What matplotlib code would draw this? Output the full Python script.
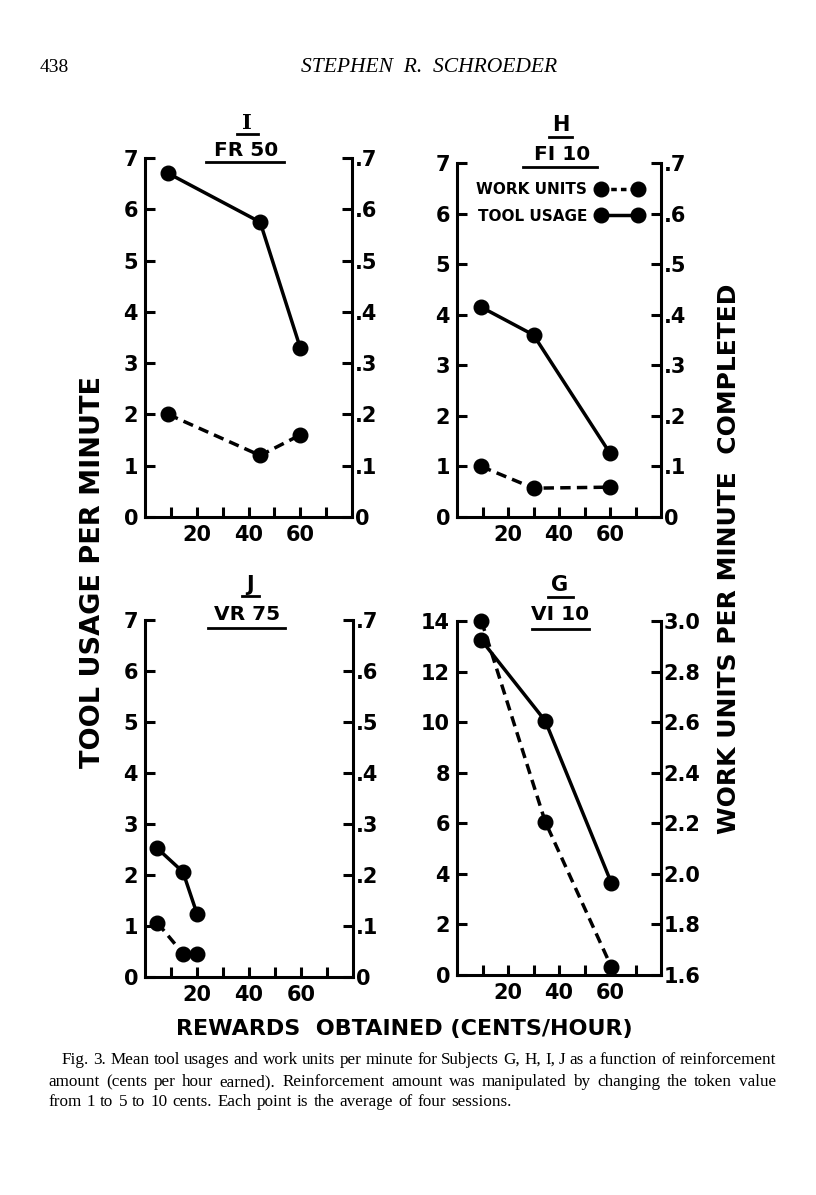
import matplotlib
matplotlib.use('Agg')
import matplotlib.pyplot as plt
from matplotlib.lines import Line2D

W, H = 816, 1195

# x axis (rewards obtained, cents/hour)
x_ticks = [10, 20, 30, 40, 50, 60, 70]
x_tick_labels = ['', '20', '', '40', '', '60', '']

# Subject I, FR 50
i_rewards = [9, 44.5, 60]
i_tool = [6.7, 5.75, 3.3]
i_work = [0.20, 0.12, 0.16]

# Subject H, FI 10
h_rewards = [9.5, 30, 60]
h_tool = [4.15, 3.6, 1.26]
h_work = [0.10, 0.057, 0.059]

# Subject J, VR 75
j_rewards = [4.8, 14.6, 20]
j_tool = [2.52, 2.06, 1.24]
j_work = [0.106, 0.046, 0.046]

# Subject G, VI 10
g_rewards = [9.6, 34.6, 60.5]
g_tool = [13.24, 10.05, 3.65]
g_work = [3.0, 2.206, 1.633]

small_left = [0, 1, 2, 3, 4, 5, 6, 7]
small_left_labels = ['0', '1', '2', '3', '4', '5', '6', '7']
small_right = [0, .1, .2, .3, .4, .5, .6, .7]
small_right_labels = ['0', '.1', '.2', '.3', '.4', '.5', '.6', '.7']
g_left = [0, 2, 4, 6, 8, 10, 12, 14]
g_left_labels = ['0', '2', '4', '6', '8', '10', '12', '14']
g_right = [1.6, 1.8, 2.0, 2.2, 2.4, 2.6, 2.8, 3.0]
g_right_labels = ['1.6', '1.8', '2.0', '2.2', '2.4', '2.6', '2.8', '3.0']


def fx(x):
    return x / W


def fy(y):
    return 1 - y / H


SANS = 'DejaVu Sans'
SERIF = 'Liberation Serif'
LW = 2.5
MS = 10.5
SPINE = 2.2

fig = plt.figure(figsize=(W / 100, H / 100), dpi=100)
fig.patch.set_facecolor('white')

panels = [
    # rect px (left, top, right, bottom), data, axes ranges, titles
    dict(rect=(145, 158, 352, 517), x=i_rewards, tool=i_tool, work=i_work,
         left=(small_left, small_left_labels, 7), right=(small_right, small_right_labels, 0, .7),
         letter='I', letter_font='DejaVu Serif', letter_pos=(247, 123), letter_ul=(237, 258, 134),
         sched='FR 50', sched_pos=(246, 151), sched_ul=(206, 284, 162)),
    dict(rect=(457, 163, 661, 517), x=h_rewards, tool=h_tool, work=h_work,
         left=(small_left, small_left_labels, 7), right=(small_right, small_right_labels, 0, .7),
         letter='H', letter_font=SANS, letter_pos=(561, 125), letter_ul=(549, 572, 137),
         sched='FI 10', sched_pos=(562, 154), sched_ul=(523, 597, 167), legend=True),
    dict(rect=(145, 620, 353, 977), x=j_rewards, tool=j_tool, work=j_work,
         left=(small_left, small_left_labels, 7), right=(small_right, small_right_labels, 0, .7),
         letter='J', letter_font=SANS, letter_pos=(250, 585), letter_ul=(242, 259, 596),
         sched='VR 75', sched_pos=(247, 614), sched_ul=(208, 285, 628)),
    dict(rect=(457, 621, 661, 975), x=g_rewards, tool=g_tool, work=g_work,
         left=(g_left, g_left_labels, 14), right=(g_right, g_right_labels, 1.6, 3.0),
         letter='G', letter_font=SANS, letter_pos=(560, 585), letter_ul=(548, 573, 597),
         sched='VI 10', sched_pos=(560, 614), sched_ul=(532, 589, 629)),
]

for p in panels:
    l, t, r, b = p['rect']
    ax = fig.add_axes([fx(l), fy(b), (r - l) / W, (b - t) / H])
    ax.set_xlim(0, 80)
    ax.set_ylim(0, p['left'][2])
    ax.set_xticks(x_ticks)
    ax.set_xticklabels(x_tick_labels)
    ax.set_yticks(p['left'][0])
    ax.set_yticklabels(p['left'][1])
    for s in ['top', 'right']:
        ax.spines[s].set_visible(False)
    for s in ['left', 'bottom']:
        ax.spines[s].set_linewidth(SPINE)
    ax.tick_params(axis='both', direction='in', length=7, width=SPINE, labelsize=15)
    ax.tick_params(axis='x', pad=6)
    ax.tick_params(axis='y', pad=5)
    for lab in ax.get_xticklabels() + ax.get_yticklabels():
        lab.set_fontweight('bold')
        lab.set_family(SANS)
    ax.patch.set_alpha(0)

    ax2 = ax.twinx()
    ax2.set_ylim(p['right'][2], p['right'][3])
    ax2.set_yticks(p['right'][0])
    ax2.set_yticklabels(p['right'][1])
    for s in ['top', 'left', 'bottom']:
        ax2.spines[s].set_visible(False)
    ax2.spines['right'].set_linewidth(SPINE)
    ax2.tick_params(axis='y', direction='in', length=7, width=SPINE, labelsize=15, pad=2)
    for lab in ax2.get_yticklabels():
        lab.set_fontweight('bold')
        lab.set_family(SANS)

    ax.plot(p['x'], p['tool'], color='black', lw=LW, marker='o', ms=MS, clip_on=False, zorder=5)
    ax2.plot(p['x'], p['work'], color='black', lw=LW, ls='--', dashes=(3, 1.8),
             marker='o', ms=MS, clip_on=False, zorder=5)

    if p.get('legend'):
        handles = [
            Line2D([], [], color='black', lw=LW, ls='--', dashes=(1.6, 1.2), marker='o', ms=MS),
            Line2D([], [], color='black', lw=LW, marker='o', ms=MS),
        ]
        ax.legend(handles, ['WORK UNITS', 'TOOL USAGE'], loc='upper left',
                  bbox_to_anchor=(0.095, 0.946), frameon=False, markerfirst=False,
                  numpoints=2, handlelength=3.0, handletextpad=0.6, labelspacing=0.75,
                  borderpad=0, borderaxespad=0,
                  prop=dict(family=SANS, weight='bold', size=11))

    lx, ly = p['letter_pos']
    fig.text(fx(lx), fy(ly), p['letter'], ha='center', va='center', fontsize=15,
             fontweight='bold', family=p['letter_font'])
    x0, x1, yy = p['letter_ul']
    fig.add_artist(Line2D([fx(x0), fx(x1)], [fy(yy), fy(yy)], color='black', lw=2))
    sx, sy = p['sched_pos']
    fig.text(fx(sx), fy(sy), p['sched'], ha='center', va='center', fontsize=14.5,
             fontweight='bold', family=SANS)
    x0, x1, yy = p['sched_ul']
    fig.add_artist(Line2D([fx(x0), fx(x1)], [fy(yy), fy(yy)], color='black', lw=2))

# big axis labels
fig.text(fx(93), fy(572), 'TOOL USAGE PER MINUTE', rotation=90, ha='center', va='center',
         fontsize=19.5, fontweight='bold', family=SANS)
fig.text(fx(729), fy(559), 'WORK UNITS PER MINUTE  COMPLETED', rotation=90, ha='center',
         va='center', fontsize=18, fontweight='bold', family=SANS)
fig.text(fx(404), fy(1029), 'REWARDS  OBTAINED (CENTS/HOUR)', ha='center', va='center',
         fontsize=16, fontweight='bold', family=SANS)

# page header
fig.text(fx(40), fy(68), '438', ha='left', va='center', fontsize=14, family=SERIF)
fig.text(fx(429), fy(68), 'STEPHEN  R.  SCHROEDER', ha='center', va='center', fontsize=15.5,
         family=SERIF, style='italic')

# caption, justified like the printed page
caption = [
    ('Fig. 3. Mean tool usages and work units per minute for Subjects G, H, I, J as a function of reinforcement',
     62, 776, 1064, True),
    ('amount (cents per hour earned). Reinforcement amount was manipulated by changing the token value',
     48, 776, 1086, True),
    ('from 1 to 5 to 10 cents. Each point is the average of four sessions.',
     48, 776, 1106, False),
]
CAP_SIZE = 12.3
renderer = fig.canvas.get_renderer()
for line, x0, x1, yb, justify in caption:
    words = line.split(' ')
    texts = [fig.text(0, fy(yb), w, fontsize=CAP_SIZE, family=SERIF, va='baseline', ha='left')
             for w in words]
    widths = [t.get_window_extent(renderer).width for t in texts]
    if justify:
        gap = (x1 - x0 - sum(widths)) / (len(words) - 1)
    else:
        gap = CAP_SIZE * 100 / 72 * 0.3
    x = x0
    for t, w in zip(texts, widths):
        t.set_x(fx(x))
        x += w + gap

fig.savefig('out.png', dpi=100, facecolor='white')
